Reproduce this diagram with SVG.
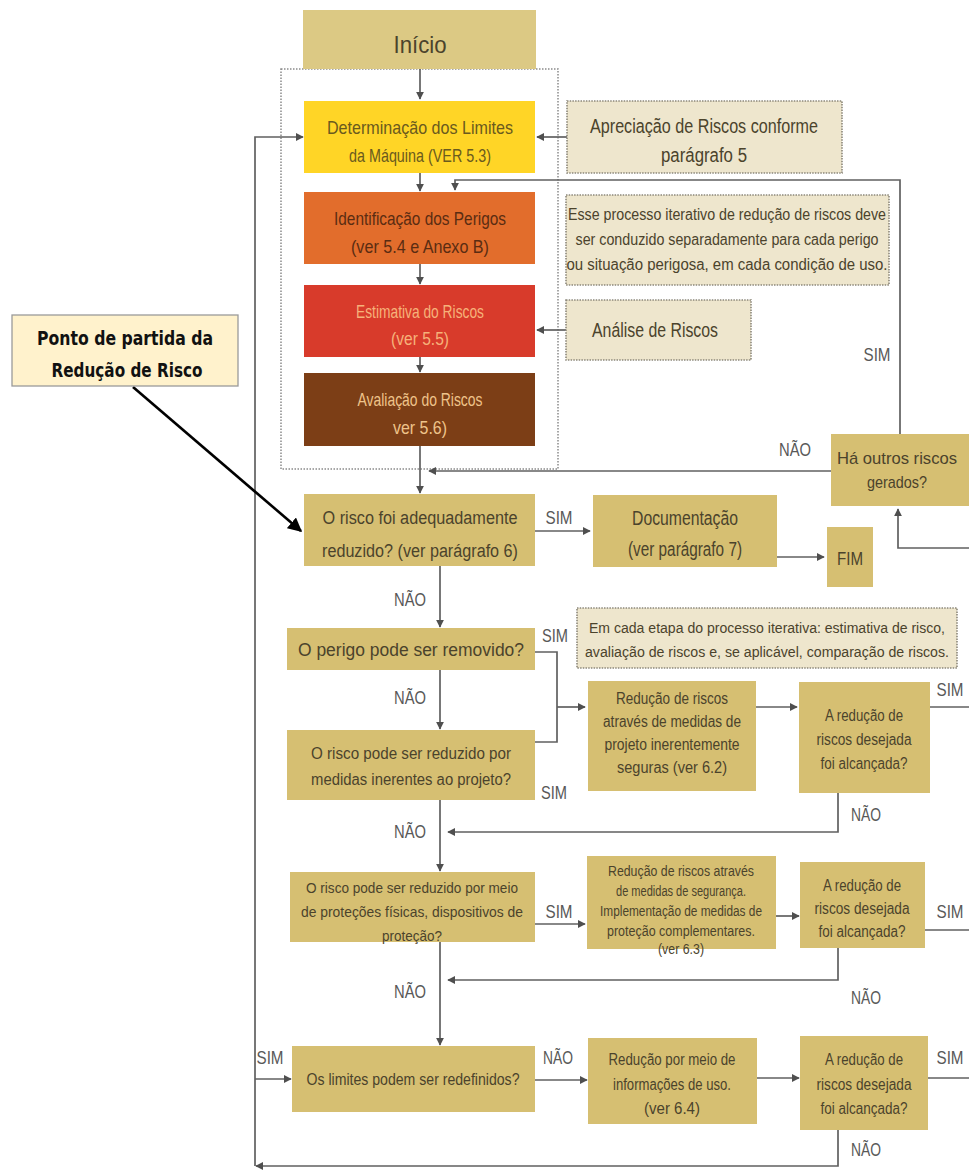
<svg xmlns="http://www.w3.org/2000/svg" width="969" height="1172" viewBox="0 0 969 1172">
<defs>
<style>
.t{font-family:"Liberation Sans",Arial,sans-serif;fill:#4B432C;text-anchor:middle;font-size:19px}
.s{font-size:16px}
.xs{font-size:14px}
.lb{font-family:"Liberation Sans",Arial,sans-serif;fill:#585858;text-anchor:middle;font-size:18px}
.n{fill:#D6BF72}
.note{fill:#EEE6CD;stroke:#8C887A;stroke-width:1.6;stroke-dasharray:1.5 1.2}
.c{fill:none;stroke:#606060;stroke-width:1.7}
</style>
<marker id="ar" viewBox="0 0 10 10" refX="9" refY="5" markerWidth="8" markerHeight="8" markerUnits="userSpaceOnUse" orient="auto">
<path d="M0,0 L10,5 L0,10 z" fill="#4F4F4F"/>
</marker>
<marker id="ab" viewBox="0 0 10 10" refX="9" refY="5" markerWidth="14" markerHeight="14" markerUnits="userSpaceOnUse" orient="auto">
<path d="M0,0 L10,5 L0,10 z" fill="#000"/>
</marker>
</defs>
<rect width="969" height="1172" fill="#fff"/>

<g id="container"><rect x="281" y="69" width="277" height="400" fill="none" stroke="#8A8A8A" stroke-width="1.5" stroke-dasharray="1.5 1.5"/></g>

<g id="connectors">
<path class="c" d="M420,69 V99" marker-end="url(#ar)"/>
<path class="c" d="M420,173 V191" marker-end="url(#ar)"/>
<path class="c" d="M420,264 V284" marker-end="url(#ar)"/>
<path class="c" d="M420,357 V372" marker-end="url(#ar)"/>
<path class="c" d="M420,446 V493" marker-end="url(#ar)"/>
<path class="c" d="M567,137 H537" marker-end="url(#ar)"/>
<path class="c" d="M566,330 H537" marker-end="url(#ar)"/>
<path class="c" d="M900,434 V180 H455 V190" marker-end="url(#ar)"/>
<path class="c" d="M831,471 H429" marker-end="url(#ar)"/>
<path class="c" d="M969,548 H898 V509" marker-end="url(#ar)"/>
<path class="c" d="M535,531 H590" marker-end="url(#ar)"/>
<path class="c" d="M777,557 H824" marker-end="url(#ar)"/>
<path class="c" d="M440,566 V627" marker-end="url(#ar)"/>
<path class="c" d="M535,652 H557 V742 H535"/>
<path class="c" d="M557,707 H585" marker-end="url(#ar)"/>
<path class="c" d="M440,670 V729" marker-end="url(#ar)"/>
<path class="c" d="M756,707 H797" marker-end="url(#ar)"/>
<path class="c" d="M930,707 H969"/>
<path class="c" d="M838,793 V832 H448" marker-end="url(#ar)"/>
<path class="c" d="M440,800 V871" marker-end="url(#ar)"/>
<path class="c" d="M535,924 H585" marker-end="url(#ar)"/>
<path class="c" d="M776,916 H799" marker-end="url(#ar)"/>
<path class="c" d="M925,930 H969"/>
<path class="c" d="M838,948 V980 H448" marker-end="url(#ar)"/>
<path class="c" d="M440,942 V1045" marker-end="url(#ar)"/>
<path class="c" d="M255,1079 H291" marker-end="url(#ar)"/>
<path class="c" d="M535,1080 H587" marker-end="url(#ar)"/>
<path class="c" d="M757,1078 H799" marker-end="url(#ar)"/>
<path class="c" d="M928,1078 H969"/>
<path class="c" d="M838,1130 V1166 H256" marker-end="url(#ar)"/>
<path class="c" d="M255,1166 V137 H303" marker-end="url(#ar)"/>
<line x1="133" y1="387" x2="301" y2="531" stroke="#000" stroke-width="2.6" marker-end="url(#ab)"/>
<text class="lb" x="877" y="361" textLength="27" lengthAdjust="spacingAndGlyphs">SIM</text>
<text class="lb" x="795" y="456" textLength="32" lengthAdjust="spacingAndGlyphs">NÃO</text>
<text class="lb" x="559" y="524" textLength="27" lengthAdjust="spacingAndGlyphs">SIM</text>
<text class="lb" x="410" y="606" textLength="32" lengthAdjust="spacingAndGlyphs">NÃO</text>
<text class="lb" x="555" y="642" textLength="26" lengthAdjust="spacingAndGlyphs">SIM</text>
<text class="lb" x="410" y="704" textLength="32" lengthAdjust="spacingAndGlyphs">NÃO</text>
<text class="lb" x="554" y="799" textLength="26" lengthAdjust="spacingAndGlyphs">SIM</text>
<text class="lb" x="950" y="696" textLength="27" lengthAdjust="spacingAndGlyphs">SIM</text>
<text class="lb" x="866" y="821" textLength="30" lengthAdjust="spacingAndGlyphs">NÃO</text>
<text class="lb" x="410" y="838" textLength="32" lengthAdjust="spacingAndGlyphs">NÃO</text>
<text class="lb" x="559" y="918" textLength="27" lengthAdjust="spacingAndGlyphs">SIM</text>
<text class="lb" x="950" y="918" textLength="27" lengthAdjust="spacingAndGlyphs">SIM</text>
<text class="lb" x="866" y="1004" textLength="30" lengthAdjust="spacingAndGlyphs">NÃO</text>
<text class="lb" x="410" y="998" textLength="32" lengthAdjust="spacingAndGlyphs">NÃO</text>
<text class="lb" x="270" y="1064" textLength="27" lengthAdjust="spacingAndGlyphs">SIM</text>
<text class="lb" x="558" y="1064" textLength="30" lengthAdjust="spacingAndGlyphs">NÃO</text>
<text class="lb" x="950" y="1064" textLength="27" lengthAdjust="spacingAndGlyphs">SIM</text>
<text class="lb" x="866" y="1156" textLength="30" lengthAdjust="spacingAndGlyphs">NÃO</text>
</g>

<g id="inicio"><rect x="303" y="10" width="233" height="59" fill="#DCC984"/>
<text class="t" x="420" y="53" style="font-size:24px" textLength="53" lengthAdjust="spacingAndGlyphs">Início</text></g>

<g id="determinacao"><rect x="304" y="101" width="231" height="72" fill="#FFD526"/>
<text class="t" x="420" y="134" style="fill:#6A5A1E" textLength="186" lengthAdjust="spacingAndGlyphs">Determinação dos Limites</text>
<text class="t" x="420" y="162" style="fill:#6A5A1E" textLength="142" lengthAdjust="spacingAndGlyphs">da Máquina (VER 5.3)</text></g>

<g id="identificacao"><rect x="304" y="192" width="231" height="72" fill="#E26D2C"/>
<text class="t" x="420" y="225" style="fill:#5A2C12" textLength="172" lengthAdjust="spacingAndGlyphs">Identificação dos Perigos</text>
<text class="t" x="420" y="253" style="fill:#5A2C12" textLength="138" lengthAdjust="spacingAndGlyphs">(ver 5.4 e Anexo B)</text></g>

<g id="estimativa"><rect x="304" y="285" width="231" height="72" fill="#D83B2B"/>
<text class="t" x="420" y="318" style="fill:#F6B27A" textLength="128" lengthAdjust="spacingAndGlyphs">Estimativa do Riscos</text>
<text class="t" x="420" y="345" style="fill:#F6B27A" textLength="58" lengthAdjust="spacingAndGlyphs">(ver 5.5)</text></g>

<g id="avaliacao"><rect x="304" y="373" width="231" height="73" fill="#7C3E16"/>
<text class="t" x="420" y="406" style="fill:#EFC38A" textLength="125" lengthAdjust="spacingAndGlyphs">Avaliação do Riscos</text>
<text class="t" x="420" y="434" style="fill:#EFC38A" textLength="54" lengthAdjust="spacingAndGlyphs">ver 5.6)</text></g>

<g id="apreciacao"><rect class="note" x="567" y="101" width="275" height="72"/>
<text class="t" x="704" y="133" style="font-size:20px" textLength="228" lengthAdjust="spacingAndGlyphs">Apreciação de Riscos conforme</text>
<text class="t" x="704" y="162" style="font-size:20px" textLength="86" lengthAdjust="spacingAndGlyphs">parágrafo 5</text></g>

<g id="nota-iterativo"><rect class="note" x="566" y="195" width="323" height="90"/>
<text class="t s" x="727" y="220" textLength="318" lengthAdjust="spacingAndGlyphs">Esse processo iterativo de redução de riscos deve</text>
<text class="t s" x="727" y="245" textLength="303" lengthAdjust="spacingAndGlyphs">ser conduzido separadamente para cada perigo</text>
<text class="t s" x="727" y="270" textLength="321" lengthAdjust="spacingAndGlyphs">ou situação perigosa, em cada condição de  uso.</text></g>

<g id="analise"><rect class="note" x="566" y="300" width="185" height="60"/>
<text class="t" x="655" y="337" style="font-size:20px" textLength="126" lengthAdjust="spacingAndGlyphs">Análise de Riscos</text></g>

<g id="outros-riscos"><rect class="n" x="831" y="434" width="140" height="72"/>
<text class="t" x="897" y="464" style="font-size:17px" textLength="120" lengthAdjust="spacingAndGlyphs">Há outros riscos</text>
<text class="t" x="897" y="488" style="font-size:17px" textLength="60" lengthAdjust="spacingAndGlyphs">gerados?</text></g>

<g id="ponto-partida"><rect x="12" y="315" width="226" height="71" fill="#FFF2CC" stroke="#9A9A9A" stroke-width="1.3"/>
<text x="125" y="345" font-family="'DejaVu Sans',sans-serif" font-weight="bold" font-size="19" fill="#111" text-anchor="middle" textLength="176" lengthAdjust="spacingAndGlyphs">Ponto de partida da</text>
<text x="127" y="377" font-family="'DejaVu Sans',sans-serif" font-weight="bold" font-size="19" fill="#111" text-anchor="middle" textLength="151" lengthAdjust="spacingAndGlyphs">Redução de Risco</text></g>

<g id="adequadamente"><rect class="n" x="304" y="494" width="231" height="72"/>
<text class="t" x="420" y="524" style="font-size:18px" textLength="195" lengthAdjust="spacingAndGlyphs">O risco foi adequadamente</text>
<text class="t" x="420" y="557" style="font-size:18px" textLength="196" lengthAdjust="spacingAndGlyphs">reduzido? (ver parágrafo 6)</text></g>

<g id="documentacao"><rect class="n" x="593" y="495" width="184" height="72"/>
<text class="t" x="685" y="525" style="font-size:20px" textLength="106" lengthAdjust="spacingAndGlyphs">Documentação</text>
<text class="t" x="685" y="556" style="font-size:20px" textLength="114" lengthAdjust="spacingAndGlyphs">(ver parágrafo 7)</text></g>

<g id="fim"><rect class="n" x="827" y="527" width="46" height="60"/>
<text class="t" x="850" y="565" textLength="26" lengthAdjust="spacingAndGlyphs">FIM</text></g>

<g id="perigo-removido"><rect class="n" x="287" y="628" width="248" height="42"/>
<text class="t" x="411" y="656" style="font-size:18px" textLength="226" lengthAdjust="spacingAndGlyphs">O perigo pode ser removido?</text></g>

<g id="nota-etapa"><rect class="note" x="577" y="608" width="380" height="60"/>
<text class="t xs" x="767" y="633" textLength="356" lengthAdjust="spacingAndGlyphs">Em cada etapa do processo iterativa: estimativa de risco,</text>
<text class="t xs" x="767" y="657" textLength="364" lengthAdjust="spacingAndGlyphs">avaliação de riscos e, se aplicável, comparação de riscos.</text></g>

<g id="medidas-inerentes"><rect class="n" x="287" y="730" width="248" height="70"/>
<text class="t s" x="411" y="759" textLength="200" lengthAdjust="spacingAndGlyphs">O risco pode ser reduzido por</text>
<text class="t s" x="411" y="785" textLength="200" lengthAdjust="spacingAndGlyphs">medidas inerentes ao projeto?</text></g>

<g id="reducao-62"><rect class="n" x="588" y="681" width="168" height="110"/>
<text class="t s" x="672" y="704" textLength="112" lengthAdjust="spacingAndGlyphs">Redução de riscos</text>
<text class="t s" x="672" y="727" textLength="138" lengthAdjust="spacingAndGlyphs">através de medidas de</text>
<text class="t s" x="672" y="750" textLength="135" lengthAdjust="spacingAndGlyphs">projeto inerentemente</text>
<text class="t s" x="672" y="773" textLength="110" lengthAdjust="spacingAndGlyphs">seguras (ver 6.2)</text></g>

<g id="alcancada-1"><rect class="n" x="799" y="682" width="131" height="111"/>
<text class="t s" x="864" y="721" textLength="78" lengthAdjust="spacingAndGlyphs">A redução de</text>
<text class="t s" x="864" y="745" textLength="95" lengthAdjust="spacingAndGlyphs">riscos desejada</text>
<text class="t s" x="864" y="769" textLength="87" lengthAdjust="spacingAndGlyphs">foi alcançada?</text></g>

<g id="protecoes"><rect class="n" x="290" y="872" width="245" height="70"/>
<text class="t" x="412" y="893" style="font-size:14.5px" textLength="212" lengthAdjust="spacingAndGlyphs">O risco pode ser reduzido por meio</text>
<text class="t" x="412" y="917" style="font-size:14.5px" textLength="222" lengthAdjust="spacingAndGlyphs">de proteções físicas, dispositivos de</text>
<text class="t" x="412" y="941" style="font-size:14.5px" textLength="60" lengthAdjust="spacingAndGlyphs">proteção?</text></g>

<g id="reducao-63"><rect class="n" x="587" y="856" width="189" height="93"/>
<text class="t xs" x="681" y="876" textLength="146" lengthAdjust="spacingAndGlyphs">Redução de riscos através</text>
<text class="t xs" x="681" y="896" textLength="130" lengthAdjust="spacingAndGlyphs">de medidas de segurança.</text>
<text class="t xs" x="681" y="916" textLength="162" lengthAdjust="spacingAndGlyphs">Implementação de medidas de</text>
<text class="t xs" x="681" y="936" textLength="148" lengthAdjust="spacingAndGlyphs">proteção complementares.</text>
<text class="t xs" x="681" y="954" textLength="46" lengthAdjust="spacingAndGlyphs">(ver 6.3)</text></g>

<g id="alcancada-2"><rect class="n" x="800" y="862" width="125" height="86"/>
<text class="t s" x="862" y="891" textLength="78" lengthAdjust="spacingAndGlyphs">A redução de</text>
<text class="t s" x="862" y="914" textLength="95" lengthAdjust="spacingAndGlyphs">riscos desejada</text>
<text class="t s" x="862" y="937" textLength="87" lengthAdjust="spacingAndGlyphs">foi alcançada?</text></g>

<g id="limites"><rect class="n" x="292" y="1046" width="243" height="66"/>
<text class="t s" x="413" y="1085" textLength="213" lengthAdjust="spacingAndGlyphs">Os limites podem ser redefinidos?</text></g>

<g id="reducao-64"><rect class="n" x="588" y="1038" width="169" height="86"/>
<text class="t s" x="672" y="1065" textLength="127" lengthAdjust="spacingAndGlyphs">Redução por meio de</text>
<text class="t s" x="672" y="1090" textLength="118" lengthAdjust="spacingAndGlyphs">informações de uso.</text>
<text class="t s" x="672" y="1114" textLength="56" lengthAdjust="spacingAndGlyphs">(ver 6.4)</text></g>

<g id="alcancada-3"><rect class="n" x="800" y="1036" width="128" height="94"/>
<text class="t s" x="864" y="1065" textLength="78" lengthAdjust="spacingAndGlyphs">A redução de</text>
<text class="t s" x="864" y="1090" textLength="95" lengthAdjust="spacingAndGlyphs">riscos desejada</text>
<text class="t s" x="864" y="1114" textLength="87" lengthAdjust="spacingAndGlyphs">foi alcançada?</text></g>
</svg>
